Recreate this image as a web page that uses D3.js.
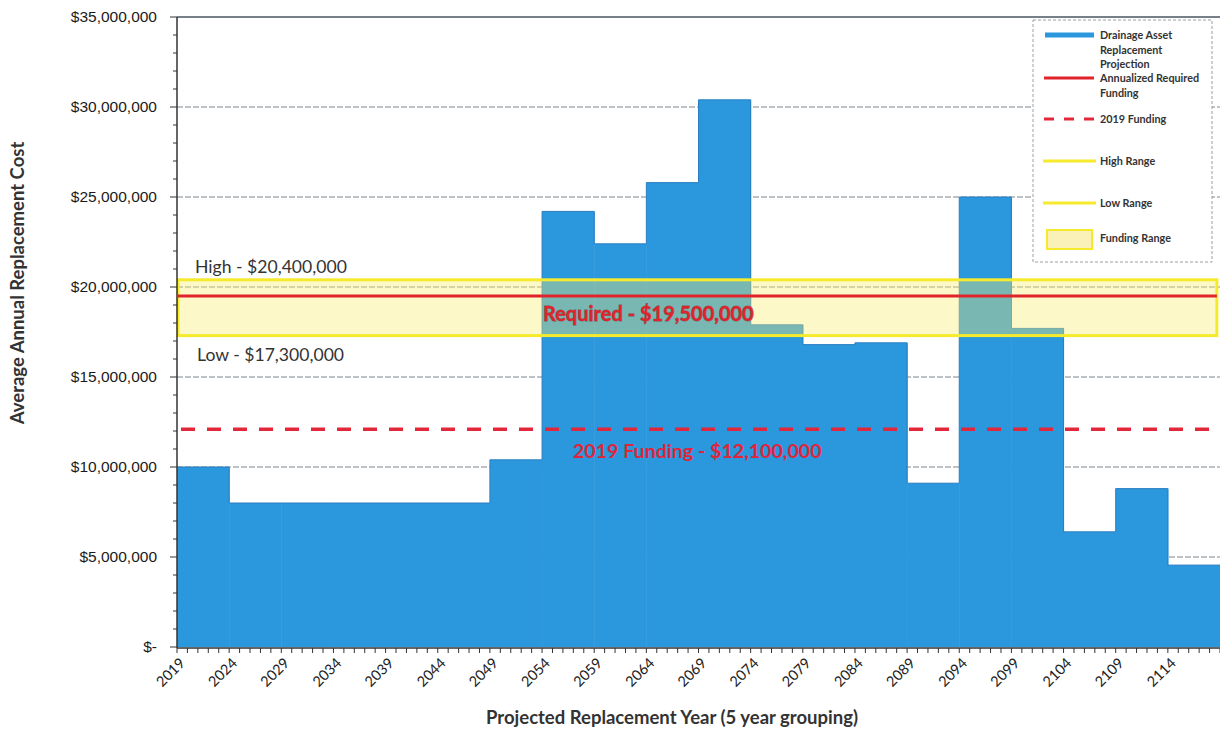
<!DOCTYPE html>
<html>
<head>
<meta charset="utf-8">
<script src="https://cdn.jsdelivr.net/npm/d3@7/dist/d3.min.js"></script>
<style>
  html, body { margin: 0; padding: 0; background: #fff; }
  svg { display: block; }
</style>
</head>
<body>
<svg id="chart" width="1220" height="732"></svg>
<script>
// Five-year grouping start years and the average annual replacement cost for each group
const groupStarts = [2019, 2024, 2029, 2034, 2039, 2044, 2049, 2054, 2059, 2064,
                     2069, 2074, 2079, 2084, 2089, 2094, 2099, 2104, 2109, 2114];
const replacementCost = [10000000, 8000000, 8000000, 8000000, 8000000, 8000000, 10400000,
                         24200000, 22400000, 25800000, 30400000, 17900000, 16800000, 16900000,
                         9100000, 25000000, 17700000, 6400000, 8800000, 4550000];

// Reference levels
const highRange = 20400000;
const lowRange = 17300000;
const requiredFunding = 19500000;
const funding2019 = 12100000;

const yTickValues = [0, 5000000, 10000000, 15000000, 20000000, 25000000, 30000000, 35000000];
const legendLabels = [
  ["Drainage Asset", "Replacement", "Projection"],
  ["Annualized Required", "Funding"],
  ["2019 Funding"],
  ["High Range"],
  ["Low Range"],
  ["Funding Range"]
];

const svg = d3.select("#chart");
const plotLeft = 177, plotRight = 1220, plotTop = 17, plotBottom = 647;

const x = d3.scaleLinear().domain([2019, 2119]).range([plotLeft, plotRight]);
const y = d3.scaleLinear().domain([0, 35000000]).range([plotBottom, plotTop]);

const BLUE = "#2b97dd";
const RED = "#e0242a";
const YELLOW = "#f6ea2c";
const labelFont = "Lato, 'Open Sans', sans-serif";

// Horizontal gridlines
svg.append("g")
  .selectAll("line")
  .data(yTickValues.filter(v => v > 0))
  .join("line")
  .attr("x1", plotLeft).attr("x2", plotRight)
  .attr("y1", d => y(d)).attr("y2", d => y(d))
  .attr("stroke", d => d === 35000000 ? "#4a5560" : "#7d868e")
  .attr("stroke-width", d => d === 35000000 ? 1.5 : 1)
  .attr("stroke-dasharray", d => d === 35000000 ? null : "6,2");

// Replacement projection bars (step profile)
svg.append("g")
  .selectAll("rect")
  .data(groupStarts)
  .join("rect")
  .attr("x", d => x(d))
  .attr("width", d => x(d + 5) - x(d) + 0.5)
  .attr("y", (d, i) => y(replacementCost[i]))
  .attr("height", (d, i) => plotBottom - y(replacementCost[i]))
  .attr("fill", BLUE);

// Top outline of the bars
const stepPts = groupStarts.map((d, i) => [d, replacementCost[i]]);
stepPts.push([2119, replacementCost[replacementCost.length - 1]]);
svg.append("path")
  .attr("d", d3.line().x(d => x(d[0])).y(d => y(d[1])).curve(d3.curveStepAfter)(stepPts))
  .attr("fill", "none")
  .attr("stroke", "#2a7fc2")
  .attr("stroke-width", 1);

// Funding range band
const bandRight = x(2118.7);
svg.append("rect")
  .attr("x", plotLeft + 1).attr("y", y(highRange))
  .attr("width", bandRight - plotLeft - 1).attr("height", y(lowRange) - y(highRange))
  .attr("fill", "rgba(250,236,110,0.38)")
  .attr("stroke", YELLOW)
  .attr("stroke-width", 3);

// Required funding line
svg.append("line")
  .attr("x1", plotLeft + 1).attr("x2", bandRight)
  .attr("y1", y(requiredFunding)).attr("y2", y(requiredFunding))
  .attr("stroke", RED).attr("stroke-width", 3);

// 2019 funding (dashed)
svg.append("line")
  .attr("x1", plotLeft + 4).attr("x2", plotRight)
  .attr("y1", y(funding2019)).attr("y2", y(funding2019))
  .attr("stroke", "#e3273b").attr("stroke-width", 3.5)
  .attr("stroke-dasharray", "14,12");

// Y axis
const yAxisG = svg.append("g");
yAxisG.append("line")
  .attr("x1", plotLeft).attr("x2", plotLeft).attr("y1", plotTop).attr("y2", plotBottom + 1)
  .attr("stroke", "#333").attr("stroke-width", 1.5);
yAxisG.selectAll(".minor")
  .data(d3.range(0, 35000001, 1000000))
  .join("line")
  .attr("x1", d => yTickValues.includes(d) ? plotLeft - 7 : plotLeft - 4).attr("x2", plotLeft)
  .attr("y1", d => y(d)).attr("y2", d => y(d))
  .attr("stroke", "#333").attr("stroke-width", 1);
yAxisG.selectAll("text")
  .data(yTickValues)
  .join("text")
  .attr("x", 157)
  .attr("y", d => y(d) + 5)
  .attr("text-anchor", "end")
  .attr("font-family", "'Liberation Sans', Arial, sans-serif")
  .attr("font-size", 15.5)
  .attr("fill", "#1a1a1a")
  .text(d => d === 0 ? "$-" : d3.format("$,")(d));

// X axis
const xAxisG = svg.append("g");
xAxisG.append("line")
  .attr("x1", plotLeft).attr("x2", plotRight).attr("y1", plotBottom + 1).attr("y2", plotBottom + 1)
  .attr("stroke", "#333").attr("stroke-width", 1.5);
xAxisG.selectAll(".tick")
  .data(d3.range(2019, 2120, 1))
  .join("line")
  .attr("x1", d => x(d)).attr("x2", d => x(d))
  .attr("y1", plotBottom + 1).attr("y2", plotBottom + 6)
  .attr("stroke", "#333").attr("stroke-width", 1);
xAxisG.selectAll("text")
  .data(groupStarts)
  .join("text")
  .attr("transform", d => `translate(${x(d) + 9},${plotBottom + 17}) rotate(-45)`)
  .attr("text-anchor", "end")
  .attr("font-family", labelFont)
  .attr("font-size", 14.5)
  .attr("fill", "#222")
  .text(d => d);

// Axis titles
svg.append("text")
  .attr("transform", `translate(24,283) rotate(-90)`)
  .attr("text-anchor", "middle")
  .attr("font-family", labelFont)
  .attr("font-weight", "bold")
  .attr("font-size", 18.5)
  .attr("fill", "#333")
  .text("Average Annual Replacement Cost");

svg.append("text")
  .attr("x", 672).attr("y", 724)
  .attr("text-anchor", "middle")
  .attr("font-family", labelFont)
  .attr("font-weight", "bold")
  .attr("font-size", 18.5)
  .attr("fill", "#333")
  .text("Projected Replacement Year (5 year grouping)");

// Reference level labels
svg.append("text")
  .attr("x", 195).attr("y", y(highRange) - 7)
  .attr("font-family", labelFont).attr("font-size", 17.6).attr("fill", "#333")
  .text("High - " + d3.format("$,")(highRange));
svg.append("text")
  .attr("x", 197).attr("y", y(lowRange) + 25)
  .attr("font-family", labelFont).attr("font-size", 17.6).attr("fill", "#333")
  .text("Low - " + d3.format("$,")(lowRange));
svg.append("text")
  .attr("x", 543).attr("y", y(requiredFunding) + 25)
  .attr("font-family", labelFont).attr("font-weight", "bold").attr("font-size", 20)
  .attr("fill", RED).attr("stroke", "#7a5a62").attr("stroke-width", 0.8)
  .attr("paint-order", "stroke")
  .text("Required - " + d3.format("$,")(requiredFunding));
svg.append("text")
  .attr("x", 573).attr("y", y(funding2019) + 29)
  .attr("font-family", labelFont).attr("font-weight", "bold").attr("font-size", 19.6)
  .attr("fill", "#e0243a")
  .text("2019 Funding - " + d3.format("$,")(funding2019));

// Legend
const lg = svg.append("g");
lg.append("rect")
  .attr("x", 1033).attr("y", 20).attr("width", 179).attr("height", 242)
  .attr("fill", "#fff").attr("stroke", "#9aa0a6").attr("stroke-width", 1)
  .attr("stroke-dasharray", "3,2");

const swatchRows = [35, 78, 119, 161, 203, 239];
const legendFontSize = 10.8;
legendLabels.forEach((lines, i) => {
  const yy = swatchRows[i];
  const g = lg.append("g");
  if (i === 0) {
    g.append("line").attr("x1", 1045).attr("x2", 1094).attr("y1", yy).attr("y2", yy)
      .attr("stroke", BLUE).attr("stroke-width", 5);
  } else if (i === 1) {
    g.append("line").attr("x1", 1044).attr("x2", 1094).attr("y1", yy).attr("y2", yy)
      .attr("stroke", RED).attr("stroke-width", 3);
  } else if (i === 2) {
    g.append("line").attr("x1", 1044).attr("x2", 1094).attr("y1", yy).attr("y2", yy)
      .attr("stroke", "#e3273b").attr("stroke-width", 3).attr("stroke-dasharray", "10,10");
  } else if (i === 3 || i === 4) {
    g.append("line").attr("x1", 1043).attr("x2", 1096).attr("y1", yy).attr("y2", yy)
      .attr("stroke", YELLOW).attr("stroke-width", 3);
  } else {
    g.append("rect").attr("x", 1047).attr("y", 230).attr("width", 45).attr("height", 19)
      .attr("fill", "#faf1b8").attr("stroke", YELLOW).attr("stroke-width", 2);
  }
  lines.forEach((t, j) => {
    g.append("text")
      .attr("x", 1100).attr("y", yy + 4 + j * 14.5 - (i === 5 ? 1 : 0))
      .attr("font-family", labelFont).attr("font-weight", "bold")
      .attr("font-size", legendFontSize).attr("fill", "#333")
      .text(t);
  });
});
</script>
</body>
</html>
